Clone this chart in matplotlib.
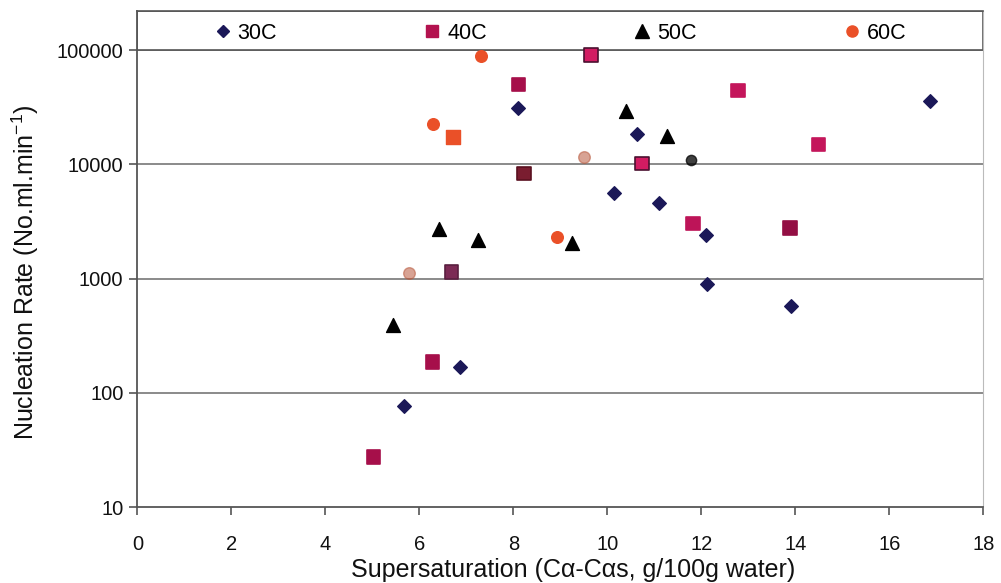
import matplotlib
matplotlib.use('Agg')
import matplotlib.pyplot as plt
from matplotlib.lines import Line2D

plt.rcParams['font.family'] = ['Liberation Sans', 'DejaVu Sans']
plt.rcParams['mathtext.fontset'] = 'custom'
plt.rcParams['mathtext.rm'] = 'Liberation Sans'

# Data.
x_30 = [5.67, 6.86, 8.11, 10.15, 10.63, 11.10, 12.09, 12.13, 13.90, 16.86]
y_30 = [76, 169, 31300, 5590, 18300, 4570, 2430, 902, 580, 35600]

x_40 = [5.03, 6.28, 6.68, 8.11, 8.23, 9.65, 10.74, 11.82, 12.78, 13.89, 14.50]
y_40 = [27.5, 186, 1140, 50100, 8350, 90600, 10200, 3040, 44600, 2770, 14900]

x_50 = [5.43, 6.42, 7.25, 9.24, 10.40, 11.28]
y_50 = [394, 2700, 2195, 2030, 29100, 17700]

x_60 = [5.79, 6.30, 7.32, 8.94, 9.50]
y_60 = [1110, 22600, 89700, 2330, 11500]

# odd-looking markers in the source image
x_60_square = [6.71]
y_60_square = [17400]
x_50_round = [11.78]
y_50_round = [10900]

series_names = ['30C', '40C', '50C', '60C']
x_ticks = [0, 2, 4, 6, 8, 10, 12, 14, 16, 18]
y_ticks = [10, 100, 1000, 10000, 100000]

navy = '#1b1858'
crimson = '#b3124f'
orange = '#ea5028'
# per-point face / edge colours of the 40C squares (some look overlapped)
face_40 = ['#a60f4a', '#a60f4a', '#7c2b55', '#a60f4a', '#7a1d30', '#d21c62',
           '#d21c62', '#bd1458', '#c4165b', '#930f44', '#c4165b']
edge_40 = ['#a60f4a', '#a60f4a', '#5a1f40', '#a60f4a', '#5a1020', '#4a1030',
           '#4a1030', '#bd1458', '#c4165b', '#930f44', '#c4165b']
alpha_60 = [0.55, 1, 1, 1, 0.55]

fig = plt.figure(figsize=(10.01, 5.83), dpi=100)
ax = fig.add_axes([0.1372, 0.1302, 0.8451, 0.8509])

ax.set_yscale('log')
ax.set_xlim(0, 18)
ax.set_ylim(10, 220000)

# Gridlines.
for yv in y_ticks[1:]:
    ax.axhline(yv, color='#777777', lw=1.2, zorder=1)

# Legend box across the top.
ax.axhspan(100000, 220000, facecolor='white', edgecolor='#555555', lw=1.2, zorder=2)

ax.scatter(x_30, y_30, marker='D', s=48, color=navy, zorder=4)
ax.scatter(x_40, y_40, marker='s', s=92, c=face_40, edgecolors=edge_40, linewidths=1.2, zorder=3)
ax.scatter(x_50, y_50, marker='^', s=100, color='black', zorder=4)
ax.scatter(x_50_round, y_50_round, marker='o', s=55, color='black', alpha=0.75, zorder=4)
for xv, yv, a in zip(x_60, y_60, alpha_60):
    ax.scatter(xv, yv, marker='o', s=70, color=orange if a == 1 else '#b8583c', alpha=a, zorder=4)
ax.scatter(x_60_square, y_60_square, marker='s', s=90, color=orange, zorder=4)

handles = [Line2D([], [], ls='', marker='D', ms=6.5, color=navy),
           Line2D([], [], ls='', marker='s', ms=9, color=crimson),
           Line2D([], [], ls='', marker='^', ms=9.5, color='black'),
           Line2D([], [], ls='', marker='o', ms=8, color=orange)]
ax.legend(handles, series_names, ncol=4, mode='expand', frameon=False,
          loc='center left', bbox_to_anchor=(0.0905, 0.915, 0.819, 0.08),
          borderaxespad=0, borderpad=0, handlelength=0.8, handletextpad=0.3,
          fontsize=15.5)

ax.set_xticks(x_ticks)
ax.set_yticks(y_ticks)
ax.set_yticklabels([str(v) for v in y_ticks])
ax.minorticks_off()
ax.tick_params(axis='both', direction='out', length=6, width=1.2, color='#555555',
               labelsize=14.5, labelcolor='#111111')
ax.tick_params(axis='x', pad=14)
ax.tick_params(axis='y', pad=4)

for side in ['left', 'bottom']:
    ax.spines[side].set_color('#555555')
    ax.spines[side].set_linewidth(1.3)
ax.spines['right'].set_color('#bbbbbb')
ax.spines['top'].set_color('#555555')
ax.spines['top'].set_linewidth(1.2)

ax.set_xlabel('Supersaturation (C\u03b1-C\u03b1s, g/100g water)', fontsize=18,
              color='#111111', va='center')
ax.xaxis.set_label_coords(0.5156, -0.127)
ax.set_ylabel('Nucleation Rate (No.ml.min$^{\\mathregular{-1}}$)', fontsize=18,
              color='#111111', va='center')
ax.yaxis.set_label_coords(-0.1327, 0.474)

fig.savefig('out.png', dpi=100, facecolor='white')
